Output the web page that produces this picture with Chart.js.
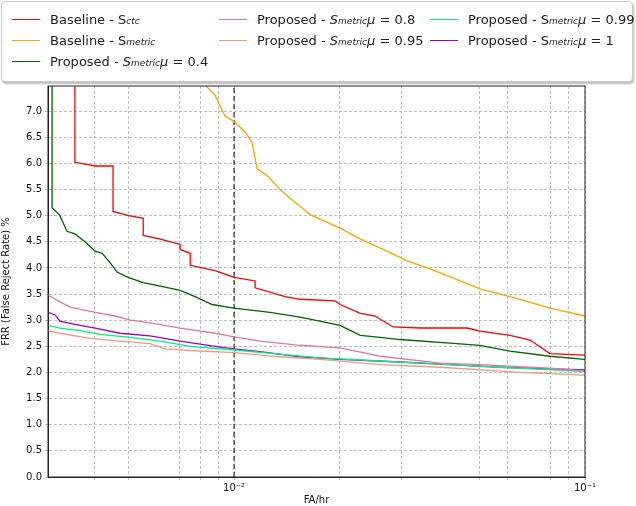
<!DOCTYPE html>
<html><head><meta charset="utf-8">
<script src="https://cdn.jsdelivr.net/npm/chart.js@4"></script>
<style>
body{margin:0;background:#fff;font-family:"DejaVu Sans",sans-serif;}
#wrap{position:relative;width:636px;height:506px;}
#legend{position:absolute;left:1px;top:1px;width:630px;height:79px;border:1px solid #ccc;border-radius:4px;background:#fff;box-shadow:1px 2px 2px #bbb;z-index:2;font-size:13px;color:#222;}
.it{position:absolute;display:flex;align-items:baseline;white-space:pre;}
.ln{display:inline-block;width:28px;height:0;border-top:1.5px solid;margin-right:10px;position:relative;top:-4px;}
sub{font-size:9px;font-style:italic;vertical-align:-3px;line-height:0;}
i{font-style:italic;}
</style></head><body>
<div id="wrap">
<div id="legend"></div>
<canvas id="c" width="636" height="506"></canvas>
</div>
<script>
const seriesNames = ["Baseline - S<sub>ctc</sub>","Baseline - S<sub>metric</sub>","Proposed - <i>S</i><sub>metric</sub> <i>μ</i> = 0.4","Proposed - <i>S</i><sub>metric</sub> <i>μ</i> = 0.8","Proposed - <i>S</i><sub>metric</sub> <i>μ</i> = 0.95","Proposed - S<sub>metric</sub> <i>μ</i> = 0.99","Proposed - S<sub>metric</sub> <i>μ</i> = 1"];
const plainNames = ["Baseline - Sctc","Baseline - Smetric","Proposed - Smetric μ=0.4","Proposed - Smetric μ=0.8","Proposed - Smetric μ=0.95","Proposed - Smetric μ=0.99","Proposed - Smetric μ=1"];
const colors = ["#ff0000","#ffa500","#006400","#e07aa5","#ee9a80","#00f080","#9400d3"];

const ctcX = [0.00352,0.00352,0.00402,0.00452,0.00452,0.0050,0.00551,0.00551,0.00616,0.00702,0.00702,0.0075,0.0075,0.00883,0.01,0.01148,0.01148,0.01397,0.01542,0.0194,0.02004,0.0229,0.02522,0.02838,0.0339,0.04613,0.0502,0.0611,0.0697,0.0794,0.1];
const ctcY = [8,6.02,5.95,5.95,5.08,5.0,4.95,4.62,4.55,4.45,4.35,4.28,4.05,3.95,3.82,3.75,3.62,3.45,3.4,3.37,3.3,3.13,3.08,2.87,2.85,2.85,2.79,2.71,2.62,2.36,2.33];
const metX = [0.00810,0.00827,0.00883,0.00943,0.01,0.01075,0.01125,0.01163,0.0125,0.01352,0.01492,0.01542,0.01646,0.02004,0.0229,0.0261,0.0297,0.0307,0.03615,0.04405,0.0502,0.0653,0.0794,0.1];
const metY = [7.6,7.5,7.3,6.9,6.8,6.6,6.4,5.9,5.75,5.5,5.25,5.18,5.02,4.76,4.55,4.38,4.2,4.15,3.98,3.75,3.6,3.4,3.23,3.08];
const m04X = [0.00303,0.00303,0.00319,0.00334,0.00352,0.00376,0.00402,0.00421,0.00443,0.00464,0.00499,0.00551,0.00616,0.00702,0.00774,0.00866,0.01,0.01266,0.01542,0.02004,0.0229,0.0261,0.0297,0.0412,0.0502,0.0611,0.0794,0.1];
const m04Y = [8,5.15,5.0,4.7,4.65,4.5,4.32,4.28,4.1,3.92,3.82,3.72,3.65,3.57,3.45,3.3,3.23,3.15,3.06,2.9,2.71,2.67,2.63,2.56,2.52,2.41,2.31,2.25];
const m08X = [0.00295,0.00319,0.00341,0.00402,0.00458,0.00506,0.00576,0.00702,0.00883,0.01,0.01186,0.01542,0.02004,0.0261,0.03864,0.0502,0.0794,0.1];
const m08Y = [3.48,3.35,3.25,3.15,3.08,3.0,2.95,2.85,2.75,2.68,2.6,2.52,2.47,2.31,2.18,2.15,2.08,2.03];
const m095X = [0.00295,0.00319,0.00389,0.00473,0.00576,0.00636,0.0075,0.01,0.01352,0.01758,0.0261,0.03864,0.0653,0.1];
const m095Y = [2.8,2.75,2.65,2.6,2.55,2.45,2.42,2.38,2.3,2.25,2.15,2.1,2.0,1.95];
const m099X = [0.00295,0.00319,0.00364,0.00415,0.00506,0.00616,0.0075,0.01,0.01352,0.01758,0.0297,0.0412,0.0573,0.1];
const m099Y = [2.9,2.85,2.8,2.73,2.67,2.6,2.5,2.43,2.35,2.28,2.2,2.15,2.1,2.02];
const m1X = [0.00295,0.00309,0.00319,0.00352,0.00402,0.00473,0.00576,0.00702,0.00883,0.01,0.01186,0.01542,0.02004,0.0297,0.0412,0.0573,0.1];
const m1Y = [3.15,3.1,2.98,2.92,2.85,2.75,2.7,2.6,2.5,2.45,2.4,2.3,2.25,2.2,2.15,2.1,2.05];
const yTicks = [0,0.5,1,1.5,2,2.5,3,3.5,4,4.5,5,5.5,6,6.5,7];
const xTickLabels = {"0.01":"10\u207B\u00B2","0.1":"10\u207B\u00B9"};
const thresholdX = 0.01;

const allX=[ctcX,metX,m04X,m08X,m095X,m099X,m1X], allY=[ctcY,metY,m04Y,m08Y,m095Y,m099Y,m1Y];
const datasets = allX.map((xs,i)=>({label:plainNames[i],data:xs.map((x,j)=>({x:x,y:allY[i][j]})),borderColor:colors[i],borderWidth:1.3,pointRadius:0,fill:false,tension:0}));
datasets.push({label:"thr",data:[{x:thresholdX,y:0},{x:thresholdX,y:8}],borderColor:"#000",borderWidth:1,borderDash:[5,3],pointRadius:0});

const lg=document.getElementById('legend');
const cols=[[0,1,2],[3,4],[5,6]], colX=[10,217,428];
cols.forEach((c,ci)=>c.forEach((idx,ri)=>{const d=document.createElement('div');d.className='it';d.style.left=colX[ci]+'px';d.style.top=(10+ri*21)+'px';d.innerHTML='<span class="ln" style="border-color:'+colors[idx]+'"></span>'+seriesNames[idx];lg.appendChild(d);}));

const frame={id:'frame',afterDatasetsDraw(ch){const a=ch.chartArea,c=ch.ctx;c.save();c.strokeStyle='#222';c.lineWidth=1;c.strokeRect(a.left,a.top,a.right-a.left,a.bottom-a.top);c.restore();}};
const niceLog=v=>{const e=Math.floor(Math.log10(v)+1e-9);const m=v/Math.pow(10,e);return Math.abs(m-Math.round(m))<1e-6?Math.round(m):null;};
new Chart(document.getElementById('c'),{type:'line',data:{datasets},
options:{responsive:false,animation:false,layout:{padding:{top:86,right:51,left:0,bottom:0}},
plugins:{legend:{display:false},tooltip:{enabled:false}},
scales:{
x:{type:'logarithmic',min:0.00295,max:0.1,
 afterBuildTicks(s){s.ticks=s.ticks.filter(t=>{const m=niceLog(t.value);if(m===null)return false;const e=Math.floor(Math.log10(t.value)+1e-9);if(e===-3&&(m===6||m<3))return false;if(e===-2&&(m===4||m===7))return false;return true;});},
 afterFit(s){s.height=29;},
 ticks:{autoSkip:false,maxRotation:0,padding:2,color:'#111',font:{family:'DejaVu Sans',size:10},callback(v){const k=String(+v.toPrecision(3));return xTickLabels[k]||'';}},
 grid:{color:'#b0b0b0',lineWidth:0.8,tickLength:3,drawTicks:true},border:{dash:[3,2],color:'#222'},
 title:{display:true,text:'FA/hr',color:'#111',font:{family:'DejaVu Sans',size:10},padding:{top:0,bottom:0}}},
y:{min:0,max:7.48,
 afterBuildTicks(s){s.ticks=yTicks.map(v=>({value:v}));},
 afterFit(s){s.width=48;},
 ticks:{color:'#111',font:{family:'DejaVu Sans',size:10},padding:3,callback:v=>(+v).toFixed(1)},
 grid:{color:'#b0b0b0',lineWidth:0.8,tickLength:3},border:{dash:[3,2],color:'#222'},
 title:{display:true,text:'FRR (False Reject Rate) %',color:'#111',font:{family:'DejaVu Sans',size:10},padding:{top:0,bottom:2}}}
}},plugins:[frame]});
</script></body></html>
